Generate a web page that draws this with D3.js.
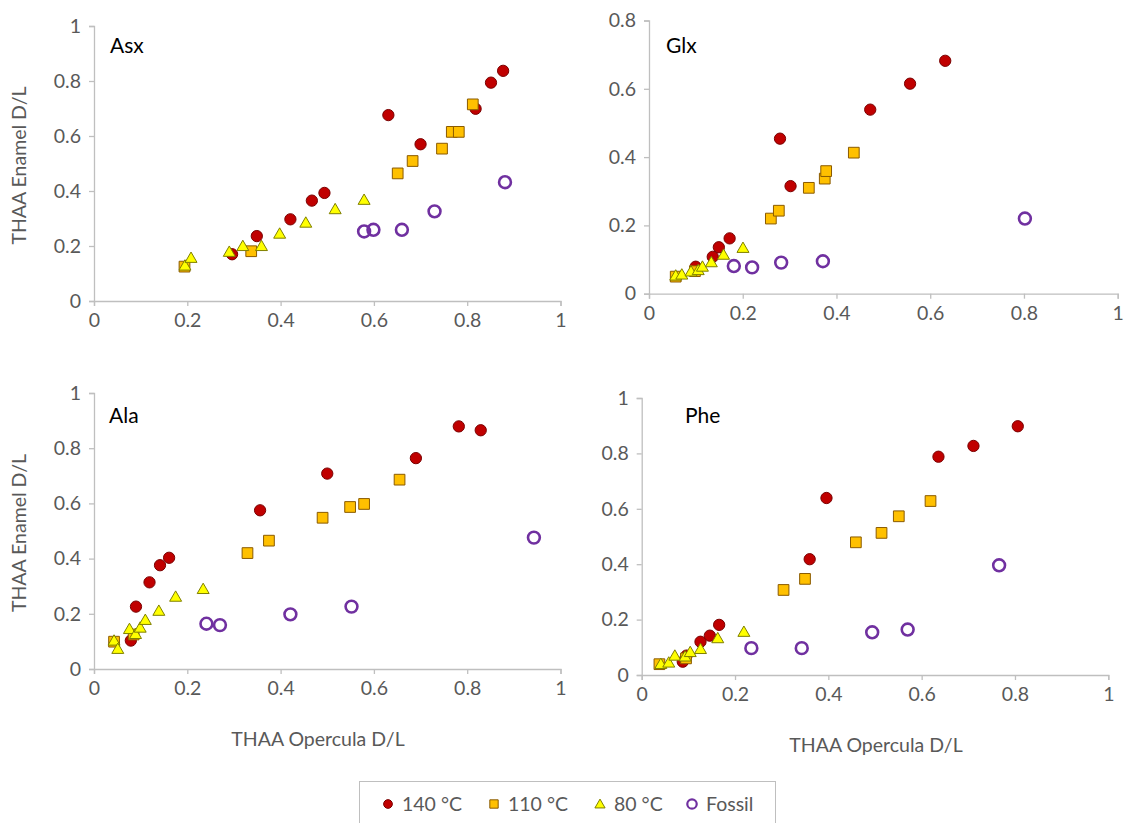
<!DOCTYPE html>
<html>
<head>
<meta charset="utf-8">
<script src="https://cdn.jsdelivr.net/npm/d3@7/dist/d3.min.js"></script>
<style>
  html, body { margin: 0; padding: 0; background: #fff; }
  svg { display: block; }
</style>
</head>
<body>
<svg id="chart" width="1127" height="823"></svg>
<script>
// ---- Data: [opercula D/L, enamel D/L] per heating temperature / fossil ----
const seriesNames = ["140 °C", "110 °C", "80 °C", "Fossil"];
const xTicks = [0, 0.2, 0.4, 0.6, 0.8, 1];
const yTicksFull = [0, 0.2, 0.4, 0.6, 0.8, 1];
const yTicksGlx = [0, 0.2, 0.4, 0.6, 0.8];

const asx140 = [[0.296,0.170],[0.349,0.236],[0.421,0.297],[0.467,0.365],[0.494,0.393],[0.631,0.676],[0.700,0.570],[0.818,0.699],[0.851,0.794],[0.877,0.837]];
const asx110 = [[0.194,0.125],[0.337,0.181],[0.651,0.464],[0.683,0.509],[0.746,0.554],[0.767,0.615],[0.782,0.615],[0.812,0.715]];
const asx80  = [[0.195,0.125],[0.208,0.153],[0.290,0.175],[0.319,0.196],[0.359,0.196],[0.398,0.241],[0.454,0.281],[0.517,0.330],[0.579,0.364]];
const asxFos = [[0.579,0.253],[0.599,0.259],[0.660,0.259],[0.730,0.326],[0.881,0.432]];

const glx140 = [[0.0996,0.079],[0.136,0.108],[0.149,0.136],[0.172,0.162],[0.2795,0.454],[0.302,0.315],[0.472,0.539],[0.557,0.615],[0.632,0.682]];
const glx110 = [[0.057,0.050],[0.098,0.066],[0.260,0.220],[0.277,0.243],[0.341,0.310],[0.375,0.337],[0.378,0.359],[0.437,0.413]];
const glx80  = [[0.057,0.050],[0.070,0.053],[0.0896,0.062],[0.105,0.066],[0.114,0.076],[0.133,0.089],[0.159,0.111],[0.2005,0.131]];
const glxFos = [[0.181,0.081],[0.220,0.077],[0.282,0.091],[0.371,0.095],[0.802,0.220]];

const ala140 = [[0.079,0.103],[0.090,0.226],[0.119,0.314],[0.1415,0.376],[0.161,0.403],[0.356,0.575],[0.500,0.708],[0.690,0.764],[0.782,0.879],[0.829,0.865]];
const ala110 = [[0.043,0.099],[0.085,0.125],[0.329,0.420],[0.375,0.465],[0.490,0.548],[0.549,0.587],[0.579,0.598],[0.655,0.686]];
const ala80  = [[0.043,0.099],[0.051,0.069],[0.076,0.141],[0.089,0.123],[0.099,0.146],[0.110,0.174],[0.139,0.207],[0.175,0.258],[0.234,0.286]];
const alaFos = [[0.241,0.164],[0.270,0.159],[0.421,0.198],[0.552,0.226],[0.943,0.476]];

const phe140 = [[0.088,0.048],[0.096,0.070],[0.126,0.120],[0.146,0.142],[0.166,0.181],[0.360,0.418],[0.396,0.639],[0.636,0.788],[0.711,0.827],[0.806,0.898]];
const phe110 = [[0.038,0.039],[0.095,0.060],[0.304,0.307],[0.350,0.347],[0.459,0.479],[0.514,0.513],[0.551,0.573],[0.619,0.628]];
const phe80  = [[0.041,0.036],[0.058,0.041],[0.071,0.066],[0.093,0.063],[0.104,0.079],[0.126,0.090],[0.163,0.129],[0.219,0.152]];
const pheFos = [[0.235,0.097],[0.343,0.097],[0.494,0.154],[0.570,0.164],[0.766,0.396]];

// ---- Styling ----
const FONT = "Lato, 'Liberation Sans', sans-serif";
const TEXT = "#595959";
const AXIS = "#bfbfbf";
const TICK_FS = "19.5px";
const TITLE_FS = "19.5px";

const markerStyles = [
  { type: d3.symbolCircle,   size: 100, fill: "#c00000", stroke: "#7a0000", sw: 1 },
  { type: d3.symbolSquare,   size: 115, fill: "#ffc000", stroke: "#8a5a00", sw: 1 },
  { type: d3.symbolTriangle, size: 62,  fill: "#ffff00", stroke: "#7f7f00", sw: 1 },
  { type: d3.symbolCircle,   size: 110, fill: "none",    stroke: "#7030a0", sw: 2.6 }
];

const panels = [
  { label: "Asx", lx: 110, ly: 53, x0: 94, x1: 560.5, y0: 301, y1: 26, yMax: 1, yTicks: yTicksFull,
    series: [asx140, asx110, asx80, asxFos], yTitle: true, xTitle: false },
  { label: "Glx", lx: 666, ly: 53, x0: 649, x1: 1117.7, y0: 293.7, y1: 20.5, yMax: 0.8, yTicks: yTicksGlx,
    series: [glx140, glx110, glx80, glxFos], yTitle: false, xTitle: false },
  { label: "Ala", lx: 109, ly: 423, x0: 94, x1: 560.5, y0: 669, y1: 393, yMax: 1, yTicks: yTicksFull,
    series: [ala140, ala110, ala80, alaFos], yTitle: true, xTitle: true, xTitleX: 318, xTitleY: 746 },
  { label: "Phe", lx: 685, ly: 423, x0: 641.7, x1: 1108.3, y0: 675, y1: 398, yMax: 1, yTicks: yTicksFull,
    series: [phe140, phe110, phe80, pheFos], yTitle: false, xTitle: true, xTitleX: 876, xTitleY: 752 }
];

const svg = d3.select("#chart");

panels.forEach(p => {
  const x = d3.scaleLinear().domain([0, 1]).range([p.x0, p.x1]);
  const y = d3.scaleLinear().domain([0, p.yMax]).range([p.y0, p.y1]);
  const g = svg.append("g");

  // x axis
  const xa = g.append("g").attr("transform", `translate(0,${p.y0})`)
    .call(d3.axisBottom(x).tickValues(xTicks).tickFormat(d3.format("")).tickSizeOuter(0).tickSize(5).tickPadding(7));
  // y axis
  const ya = g.append("g").attr("transform", `translate(${p.x0},0)`)
    .call(d3.axisLeft(y).tickValues(p.yTicks).tickFormat(d3.format("")).tickSizeOuter(0).tickSize(5).tickPadding(8));

  [xa, ya].forEach(a => {
    a.select(".domain").attr("stroke", AXIS).attr("stroke-width", 1.3);
    a.selectAll(".tick line").attr("stroke", AXIS).attr("stroke-width", 1.3);
    a.selectAll(".tick text").attr("fill", TEXT).style("font-family", FONT).style("font-size", TICK_FS);
  });

  // panel label
  g.append("text").attr("x", p.lx).attr("y", p.ly).text(p.label)
    .attr("fill", "#000").style("font-family", FONT).style("font-size", "21px");

  if (p.yTitle) {
    g.append("text")
      .attr("transform", `translate(26,${(p.y0 + p.y1) / 2 + 2}) rotate(-90)`)
      .attr("text-anchor", "middle").text("THAA Enamel D/L")
      .attr("fill", TEXT).style("font-family", FONT).style("font-size", TITLE_FS);
  }
  if (p.xTitle) {
    g.append("text").attr("x", p.xTitleX).attr("y", p.xTitleY)
      .attr("text-anchor", "middle").text("THAA Opercula D/L")
      .attr("fill", TEXT).style("font-family", FONT).style("font-size", TITLE_FS);
  }

  // markers, drawn series by series
  p.series.forEach((data, i) => {
    const st = markerStyles[i];
    const sym = d3.symbol().type(st.type).size(st.size);
    g.append("g").selectAll("path").data(data).join("path")
      .attr("d", sym)
      .attr("transform", d => `translate(${x(d[0])},${y(d[1])})`)
      .attr("fill", st.fill).attr("stroke", st.stroke).attr("stroke-width", st.sw);
  });
});

// ---- Legend ----
const lg = svg.append("g");
lg.append("rect").attr("x", 359.5).attr("y", 781.5).attr("width", 416).attr("height", 50)
  .attr("fill", "#fff").attr("stroke", AXIS).attr("stroke-width", 1);

const legendSizes = [60, 70, 45, 70];
const legendX = [388, 494, 600, 692];
seriesNames.forEach((name, i) => {
  const st = markerStyles[i];
  const sym = d3.symbol().type(st.type).size(legendSizes[i]);
  lg.append("path").attr("d", sym)
    .attr("transform", `translate(${legendX[i]},${i === 2 ? 805 : 804})`)
    .attr("fill", st.fill).attr("stroke", st.stroke).attr("stroke-width", i === 3 ? 2.2 : 1);
  lg.append("text").attr("x", legendX[i] + 14).attr("y", 811).text(name)
    .attr("fill", TEXT).style("font-family", FONT).style("font-size", TITLE_FS);
});
</script>
</body>
</html>
